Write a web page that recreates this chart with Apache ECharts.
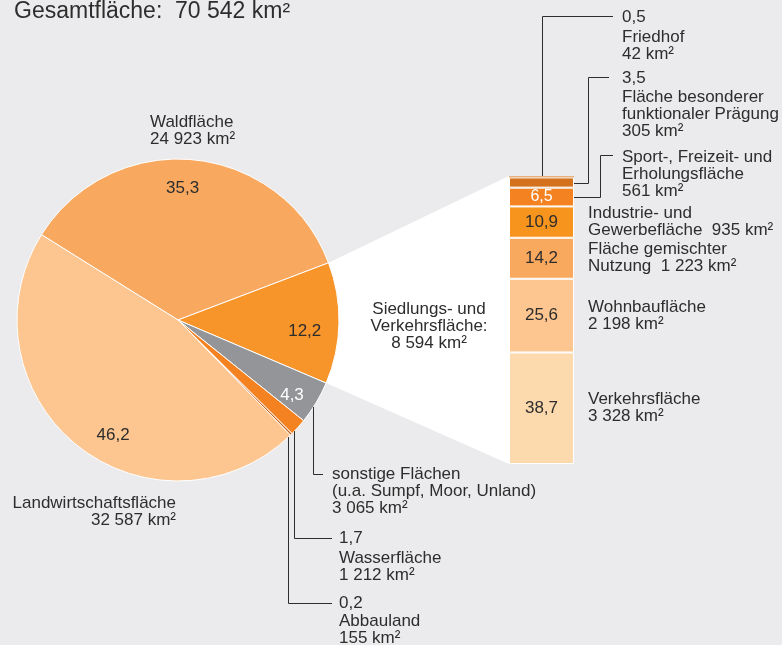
<!DOCTYPE html>
<html>
<head>
<meta charset="utf-8">
<script src="https://cdn.jsdelivr.net/npm/echarts@6/dist/echarts.min.js"></script>
<style>
html, body { margin: 0; padding: 0; background: #ebebed; }
#chart { width: 782px; height: 645px; }
</style>
</head>
<body>
<div id="chart"></div>
<script>
// Flächennutzung – Kreis (km²), im Uhrzeigersinn ab Waldfläche
var pieNames = ['Waldfläche', 'Siedlungs- und Verkehrsfläche', 'sonstige Flächen', 'Wasserfläche', 'Abbauland', 'Landwirtschaftsfläche'];
var pieValues = [24923, 8594, 3065, 1212, 155, 32587];
var piePct = ['35,3', '12,2', '4,3', '1,7', '0,2', '46,2'];

// Siedlungs- und Verkehrsfläche – Säule (km²), von unten nach oben
var barNames = ['Verkehrsfläche', 'Wohnbaufläche', 'Fläche gemischter Nutzung', 'Industrie- und Gewerbefläche',
  'Sport-, Freizeit- und Erholungsfläche', 'Fläche besonderer funktionaler Prägung', 'Friedhof'];
var barValues = [3328, 2198, 1223, 935, 561, 305, 42];
var barPct = ['38,7', '25,6', '14,2', '10,9', '6,5', '3,5', '0,5'];

var FONT = '"Liberation Sans", Arial, sans-serif';
var TXT = '#2d2d2d';
var FS = 17;

// Farben
var pieColors = ['#f8a95f', '#f7942a', '#939598', '#f58220', '#c4601c', '#fdc58f'];
var barColors = ['#fdd9ae', '#fdc590', '#f9a95e', '#f7941d', '#f58220', '#d4711c', '#e8b07a'];

// Position der Prozentwerte im Kreis (Anteil Radius, Winkelversatz)
var pieLabelPlace = [[0.82, 3.6], [0.79, -3.8], [0.85, -2.7], null, null, [0.82, 9.4]];

function fmt(v) { return String(v).replace(/\B(?=(\d{3})+(?!\d))/g, ' '); }

var cx = 178, cy = 320, R = 161, startAng = 148;
var pieTotal = pieValues.reduce(function (a, b) { return a + b; }, 0);
var barTotal = barValues.reduce(function (a, b) { return a + b; }, 0);

// mittlerer Winkel je Segment
var pieMid = [];
(function () {
  var acc = 0;
  for (var i = 0; i < pieValues.length; i++) {
    var span = pieValues[i] / pieTotal * 360;
    pieMid.push(startAng - acc - span / 2);
    acc += span;
  }
})();

function piePt(deg, r) {
  var a = deg * Math.PI / 180;
  return [cx + r * Math.cos(a), cy - r * Math.sin(a)];
}

var grid = { left: 509, top: 176, width: 65, height: 288 };

var rightLabels = [
  'Verkehrsfläche\n' + fmt(barValues[0]) + ' km²',
  'Wohnbaufläche\n' + fmt(barValues[1]) + ' km²',
  'Fläche gemischter\nNutzung  ' + fmt(barValues[2]) + ' km²',
  'Industrie- und\nGewerbefläche  ' + fmt(barValues[3]) + ' km²'
];

var series = [{
  type: 'pie',
  center: [cx, cy],
  radius: R,
  startAngle: startAng,
  clockwise: true,
  silent: true,
  animation: false,
  avoidLabelOverlap: false,
  z: 5,
  itemStyle: { borderColor: '#fff', borderWidth: 1 },
  labelLine: { show: false },
  label: {
    position: 'inside',
    fontFamily: FONT,
    fontSize: 17,
    formatter: function (p) { return piePct[p.dataIndex]; }
  },
  labelLayout: function (p) {
    var pl = pieLabelPlace[p.dataIndex];
    if (!pl) return {};
    var pt = piePt(pieMid[p.dataIndex] + pl[1], R * pl[0]);
    return { x: pt[0], y: pt[1], align: 'center', verticalAlign: 'middle' };
  },
  data: pieValues.map(function (v, i) {
    return {
      name: pieNames[i],
      value: v,
      itemStyle: { color: pieColors[i] },
      label: { show: !!pieLabelPlace[i], color: i === 2 ? '#fff' : TXT }
    };
  })
}];

barValues.forEach(function (v, i) {
  series.push({
    type: 'bar',
    stack: 'sv',
    name: barNames[i],
    data: [v],
    barWidth: grid.width,
    barGap: '-100%',
    silent: true,
    animation: false,
    z: 6,
    itemStyle: { color: barColors[i], borderColor: '#fff', borderWidth: i === 6 ? 0 : 1 },
    label: {
      show: i < 5,
      position: 'inside',
      fontFamily: FONT,
      fontSize: i === 4 ? 16 : 17,
      color: i === 4 ? '#fff' : TXT,
      formatter: function () { return barPct[i]; }
    }
  });
});

// Beschriftung rechts neben der Säule
barValues.forEach(function (v, i) {
  series.push({
    type: 'bar',
    stack: 'txt',
    data: [v],
    barWidth: grid.width,
    barGap: '-100%',
    silent: true,
    animation: false,
    z: 7,
    itemStyle: { color: 'rgba(0,0,0,0)' },
    label: {
      show: i < 4,
      position: 'right',
      distance: 14,
      align: 'left',
      fontFamily: FONT,
      fontSize: FS,
      lineHeight: 17,
      color: TXT,
      formatter: function () { return rightLabels[i] || ''; }
    }
  });
});

var option = {
  backgroundColor: '#ebebed',
  animation: false,
  grid: grid,
  xAxis: { type: 'category', data: [''], show: false },
  yAxis: { type: 'value', min: 0, max: barTotal, show: false },
  series: series
};

var chart = echarts.init(document.getElementById('chart'));
chart.setOption(option);

// Verbindungsfläche, Hinweislinien und Texte
var yAt = function (v) { return chart.convertToPixel({ yAxisIndex: 0 }, v); };
var cum = [];
barValues.reduce(function (a, v) { cum.push(a); return a + v; }, 0);
function segMid(i) { return Math.round(yAt(cum[i] + barValues[i] / 2)) + 0.5; }
var barTop = yAt(barTotal), barBottom = yAt(0);
var barLeft = grid.left, barRight = grid.left + grid.width;

var siedStart = startAng - pieValues[0] / pieTotal * 360;
var siedEnd = siedStart - pieValues[1] / pieTotal * 360;

function edgeY(x) { return cy + Math.sqrt(R * R - (x - cx) * (x - cx)); }

function line(pts) {
  return { type: 'polyline', z: 20, shape: { points: pts }, style: { stroke: TXT, lineWidth: 1, fill: null } };
}
function text(x, y, s, align, size) {
  return {
    type: 'text', z: 30, x: x, y: y - 8.5,
    style: { text: s, font: (size || FS) + 'px ' + FONT, fill: TXT, textAlign: align || 'left', textVerticalAlign: 'top', lineHeight: 17 }
  };
}

var midX = Math.round((barLeft + barRight) / 2) + 0.5;
var graphic = [
  {
    type: 'polygon', z: 1,
    shape: { points: [piePt(siedStart, R), [barLeft, barTop], [barLeft, barBottom], piePt(siedEnd, R)] },
    style: { fill: '#fff' }
  },
  // Friedhof
  line([[midX, barTop], [midX, 16.5], [613, 16.5]]),
  // besondere funktionale Prägung
  line([[barRight, segMid(5)], [588.5, segMid(5)], [588.5, 77.5], [609, 77.5]]),
  // Sport, Freizeit, Erholung
  line([[barRight, segMid(4)], [600.5, segMid(4)], [600.5, 155.5], [613, 155.5]]),
  // sonstige Flächen
  line([[313.5, edgeY(313.5)], [313.5, 474.5], [323, 474.5]]),
  // Wasserfläche
  line([[294.5, edgeY(294.5)], [294.5, 538.5], [332, 538.5]]),
  // Abbauland
  line([[288.5, edgeY(288.5)], [288.5, 603.5], [332, 603.5]]),

  text(14, 12, 'Gesamtfläche:  70 542 km²', 'left', 23),
  text(150, 122, 'Waldfläche\n' + fmt(pieValues[0]) + ' km²'),
  text(176, 503, 'Landwirtschaftsfläche\n' + fmt(pieValues[5]) + ' km²', 'right'),
  text(429, 309, 'Siedlungs- und\nVerkehrsfläche:\n' + fmt(pieValues[1]) + ' km²', 'center'),
  text(332, 474, 'sonstige Flächen\n(u.a. Sumpf, Moor, Unland)\n' + fmt(pieValues[2]) + ' km²'),
  text(339, 538, piePct[3]),
  text(339, 558, 'Wasserfläche\n' + fmt(pieValues[3]) + ' km²'),
  text(339, 603, piePct[4]),
  text(339, 621, 'Abbauland\n' + fmt(pieValues[4]) + ' km²'),
  text(622, 17, barPct[6]),
  text(622, 37, 'Friedhof\n' + fmt(barValues[6]) + ' km²'),
  text(622, 78, barPct[5]),
  text(622, 97, 'Fläche besonderer\nfunktionaler Prägung\n' + fmt(barValues[5]) + ' km²'),
  text(622, 157, 'Sport-, Freizeit- und\nErholungsfläche\n' + fmt(barValues[4]) + ' km²')
];

chart.setOption({ graphic: graphic });
</script>
</body>
</html>
